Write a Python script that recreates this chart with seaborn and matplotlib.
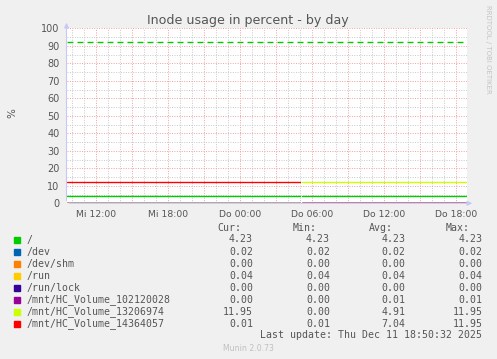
import numpy as np
import pandas as pd
import matplotlib
matplotlib.use("Agg")
import matplotlib.pyplot as plt
import seaborn as sns
from matplotlib.patches import Rectangle, FancyArrowPatch

# ---------------- data ----------------
labels = ["/", "/dev", "/dev/shm", "/run", "/run/lock",
          "/mnt/HC_Volume_102120028", "/mnt/HC_Volume_13206974",
          "/mnt/HC_Volume_14364057"]
colors = ["#00CC00", "#0066B3", "#FF8000", "#FFCC00", "#330099",
          "#990099", "#CCFF00", "#FF0000"]
cur_vals = [4.23, 0.02, 0.00, 0.04, 0.00, 0.00, 11.95, 0.01]
min_vals = [4.23, 0.02, 0.00, 0.04, 0.00, 0.00, 0.00, 0.01]
avg_vals = [4.23, 0.02, 0.00, 0.04, 0.00, 0.01, 4.91, 7.04]
max_vals = [4.23, 0.02, 0.00, 0.04, 0.00, 0.01, 11.95, 11.95]

# values per segment (before / after the data gap on Thursday ~05:05)
seg1_vals = [4.23, 0.02, 0.00, 0.04, 0.00, 0.01, 0.00, 11.95]
seg2_vals = [4.23, 0.02, 0.00, 0.04, 0.00, 0.00, 11.95, 0.01]
# hours since Wednesday 00:00
seg1_time = [9.6, 29.03]
seg2_time = [29.2, 42.83]
warn_level = [92]

tick_hours = [12, 15, 18, 21, 24, 27, 30, 33, 36, 39, 42]
tick_labels = ["Mi 12:00", "", "Mi 18:00", "", "Do 00:00", "", "Do 06:00", "",
               "Do 12:00", "", "Do 18:00"]
x_range = [9.61, 42.94]

title = "Inode usage in percent - by day"
last_update = "Last update: Thu Dec 11 18:50:32 2025"

# ---------------- build table ----------------
rows = []
for i, lab in enumerate(labels):
    for t in seg1_time:
        rows.append(dict(t=t, v=seg1_vals[i], series=lab, seg=1))
    for t in seg2_time:
        rows.append(dict(t=t, v=seg2_vals[i], series=lab, seg=2))
df = pd.DataFrame(rows)

# ---------------- figure ----------------
sns.set_style("white")
plt.rcParams["font.family"] = ["DejaVu Sans"]
W, H = 497, 359
fig = plt.figure(figsize=(W / 100, H / 100), dpi=100, facecolor="#F0F0F0")

def fx(x):
    return x / W

def fy(y):
    return 1 - y / H

left, right, top, bottom = 67, 467, 28.3, 203.3
ax = fig.add_axes([fx(left), fy(bottom), (right - left) / W, (bottom - top) / H])
ax.set_facecolor("white")

ax.set_xlim(*x_range)
ax.set_ylim(0, 100)
ax.set_xticks(tick_hours)
ax.set_xticklabels(tick_labels)
ax.set_xticks(np.arange(10, 43, 1), minor=True)
ax.set_yticks(np.arange(0, 101, 10))
ax.set_yticks(np.arange(0, 101, 5), minor=True)
ax.grid(which="minor", color="#C8C8C8", linestyle=(0, (1, 1.5)), linewidth=0.7)
ax.grid(which="major", color="#F0A0A0", linestyle=(0, (1, 1.5)), linewidth=0.7)
ax.set_axisbelow(True)
for s in ax.spines.values():
    s.set_visible(False)
ax.tick_params(which="both", length=0)
ax.tick_params(axis="x", labelsize=6.7, colors="#555555", pad=5)
ax.tick_params(axis="y", labelsize=7, colors="#555555", pad=5.5)

sns.lineplot(data=df, x="t", y="v", hue="series", units="seg", estimator=None,
             hue_order=labels, palette=colors, linewidth=1.0, legend=False,
             ax=ax, clip_on=True)
ax.set_xlim(*x_range)
ax.set_ylim(0, 100)
ax.set_xlabel("")
ax.set_ylabel("")

for w in warn_level:
    ax.axhline(w, color="#00CC00", linewidth=1.0, linestyle=(0, (4.3, 2.9)))

# axes with arrows
axis_col = "#C8C8F8"
fig.patches.append(FancyArrowPatch((fx(66.5), fy(bottom)), (fx(66.5), fy(20)),
                                   transform=fig.transFigure, arrowstyle="-|>",
                                   mutation_scale=7, color=axis_col, lw=0.8))
fig.patches.append(FancyArrowPatch((fx(66.5), fy(bottom)), (fx(475), fy(bottom)),
                                   transform=fig.transFigure, arrowstyle="-|>",
                                   mutation_scale=7, color=axis_col, lw=0.8,
                                   zorder=0))

# texts
fig.text(fx(248), fy(24.3), title, ha="center", va="baseline",
         fontsize=9.1, color="#555555")
fig.text(fx(12), fy(113), "%", ha="center", va="center", rotation=90,
         fontsize=7.5, color="#555555")
fig.text(fx(487.7), fy(5), "RRDTOOL / TOBI OETIKER", ha="center", va="top",
         rotation=270, fontsize=5, color="#C4C4C4")

mono = dict(family="DejaVu Sans Mono", fontsize=7.1, color="#555555")
col_right = [253, 330, 405.7, 482.3]
head_right = [241, 316.7, 393.3, 470]
for hx, h in zip(head_right, ["Cur:", "Min:", "Avg:", "Max:"]):
    fig.text(fx(hx), fy(227.7), h, ha="right", va="center", **mono)

row_y0, row_dy = 239.5, 12.05
for i, lab in enumerate(labels):
    y = row_y0 + i * row_dy
    fig.patches.append(Rectangle((fx(14), fy(y + 3)), 6 / W, 6 / H,
                                 transform=fig.transFigure, color=colors[i]))
    fig.text(fx(26.5), fy(y), lab, ha="left", va="center", **mono)
    for cx, vals in zip(col_right, [cur_vals, min_vals, avg_vals, max_vals]):
        fig.text(fx(cx), fy(y), f"{vals[i]:.2f}", ha="right", va="center", **mono)

fig.text(fx(482.3), fy(335), last_update, ha="right", va="center", **mono)
fig.text(fx(248), fy(348.3), "Munin 2.0.73", ha="center", va="center",
         fontsize=5.6, color="#C0C0C0")

fig.savefig("out.png", dpi=100, facecolor=fig.get_facecolor())
